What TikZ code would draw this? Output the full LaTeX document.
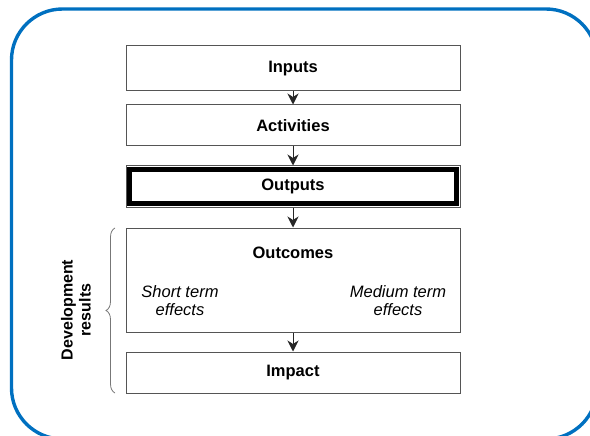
\documentclass[tikz,border=0pt]{standalone}
\usepackage{fontspec}
\setmainfont{Liberation Sans}
\usetikzlibrary{arrows.meta,decorations.pathreplacing}
\definecolor{frameblue}{RGB}{0,112,192}
\definecolor{boxline}{RGB}{85,85,85}
\begin{document}
\begin{tikzpicture}[x=1pt,y=-1pt,
  stage/.style={draw=boxline, line width=1pt, minimum width=334pt, inner sep=0pt,
    font=\fontsize{16.5}{19}\selectfont\bfseries},
  effect/.style={align=center, font=\fontsize{16.5}{18}\selectfont\itshape},
  flow/.style={draw=black!85, line width=0.9pt,
    -{Stealth[length=11pt,width=11pt,inset=3.5pt]}}]
\useasboundingbox (0,0) rectangle (590,436);

% outer blue frame
\draw[frameblue, line width=3.4pt, rounded corners=51pt] (11.5,9) rectangle (597,439);

% chain of stages
\node[stage, minimum height=45pt] (inp) at (293,68.5) {Inputs};
\node[stage, minimum height=41pt] (act) at (293,125.5) {Activities};
\node[stage, minimum height=41pt] (outp) at (293,186.5) {Outputs};
\draw[black, line width=4.5pt]
  ([shift={(4.2,4.2)}]outp.north west) rectangle ([shift={(-4.2,-4.2)}]outp.south east);
\node[stage, minimum height=104pt] (outc) at (293,280) {};
\node[font=\fontsize{16.5}{19}\selectfont\bfseries] (outct) at (293,253) {Outcomes};
\node[effect] (short) at (180,301) {Short term\\effects};
\node[effect] (medium) at (398,301) {Medium term\\effects};
\node[stage, minimum height=41pt] (imp) at (293,372.5) {Impact};

% arrows between stages
\draw[flow] (inp.south) -- (act.north);
\draw[flow] (act.south) -- (outp.north);
\draw[flow] (outp.south) -- (outc.north);
\draw[flow] (outc.south) -- (imp.north);

% brace grouping the development results
\coordinate (btop) at (115,228);
\coordinate (bbot) at (115,393);
\draw[boxline!80, line width=0.8pt, decorate, decoration={brace, amplitude=9pt}] (bbot) -- (btop);
\node[rotate=90, align=center, font=\fontsize{16}{18}\selectfont\bfseries] (dev) at (76,310)
  {Development\\results};
\end{tikzpicture}
\end{document}
